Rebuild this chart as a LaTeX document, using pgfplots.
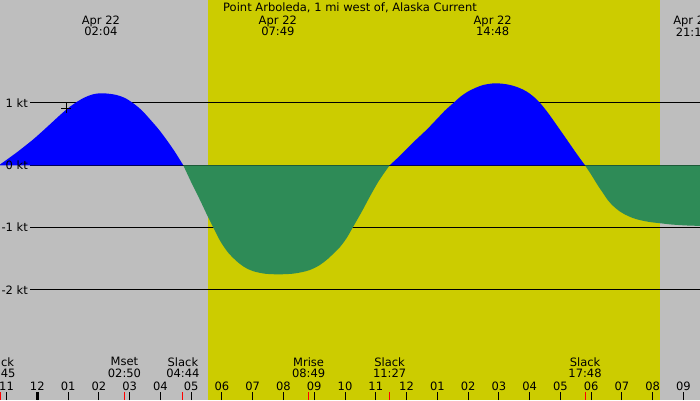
\documentclass[border=0pt]{standalone}
\usepackage{pgfplots}
\pgfplotsset{compat=1.18}
\usepackage{fontspec}
\setmainfont{DejaVu Sans}
\definecolor{bggray}{RGB}{190,190,190}
\definecolor{dayyellow}{RGB}{204,204,0}
\definecolor{ebbgreen}{RGB}{46,139,87}
\definecolor{floodblue}{RGB}{0,0,255}

\begin{document}
\begin{tikzpicture}[every node/.style={font=\fontsize{11.5}{11.6}\selectfont, inner sep=0pt}]
\useasboundingbox (0,0) rectangle (700pt,400pt);
\begin{axis}[
  at={(0,0)}, anchor=south west,
  width=700pt, height=400pt, scale only axis,
  xmin=-1.2122, xmax=21.537,
  ymin=-3.767, ymax=2.653,
  axis line style={draw=none},
  axis background/.style={fill=bggray},
  axis on top,
  ytick=\empty,
  xtick={-1,0,...,21},
  xticklabels={11,12,01,02,03,04,05,06,07,08,09,10,11,12,01,02,03,04,05,06,07,08,09},
  xtick pos=bottom,
  tick align=inside,
  major tick length=8pt,
  tick style={black, line width=1pt},
  xticklabel style={anchor=base, yshift=10pt, font=\fontsize{11.5}{11.6}\selectfont},
]
% daylight
\addplot[fill=dayyellow, draw=none] coordinates {(5.548,-3.767) (5.548,2.653) (20.237,2.653) (20.237,-3.767)};

% knot lines
\addplot[black, line width=1pt] coordinates {(-0.237,1) (21.537,1)};
\addplot[black, line width=1pt] coordinates {(-0.237,0) (21.537,0)};
\addplot[black, line width=1pt] coordinates {(-0.237,-1) (21.537,-1)};
\addplot[black, line width=1pt] coordinates {(-0.237,-2) (21.537,-2)};

% flood 1
\addplot[fill=floodblue, draw=none, smooth, tension=0.5] coordinates {
(-1.25,0) (-0.95,0.105) (-0.66,0.21) (-0.4,0.31) (-0.13,0.417) (0.14,0.535)
(0.413,0.658) (0.68,0.78) (0.955,0.899) (1.2,0.99) (1.5,1.08) (1.8,1.138)
(2.05,1.156) (2.3,1.150) (2.58,1.128) (2.85,1.08) (3.12,0.995) (3.4,0.88)
(3.663,0.738) (3.94,0.58) (4.205,0.406) (4.48,0.21) (4.745,0)};

% ebb 1
\addplot[fill=ebbgreen, draw=none, smooth, tension=0.5] coordinates {
(4.745,0) (5.0,-0.27) (5.29,-0.56) (5.5,-0.78) (5.72,-1.0) (5.95,-1.22) (6.2,-1.40)
(6.48,-1.54) (6.75,-1.64) (7.02,-1.70) (7.4,-1.74) (7.85,-1.75) (8.3,-1.74)
(8.6,-1.715) (8.86,-1.68) (9.15,-1.61) (9.4,-1.52) (9.62,-1.42) (9.84,-1.31)
(10.05,-1.17) (10.25,-1.0) (10.55,-0.74) (10.81,-0.50) (11.1,-0.25) (11.45,0)};

% flood 2
\addplot[fill=floodblue, draw=none, smooth, tension=0.5] coordinates {
(11.45,0) (11.8,0.16) (12.2,0.36) (12.65,0.57) (13.0,0.75) (13.25,0.88) (13.5,0.99)
(13.75,1.10) (14.0,1.185) (14.25,1.245) (14.5,1.29) (14.84,1.316) (15.1,1.31)
(15.36,1.29) (15.65,1.245) (15.9,1.185) (16.12,1.105) (16.34,1.0) (16.6,0.84)
(16.88,0.645) (17.1,0.49) (17.31,0.34) (17.55,0.17) (17.8,0)};

% ebb 2
\addplot[fill=ebbgreen, draw=none, smooth, tension=0.5] coordinates {
(17.8,0) (18.0,-0.15) (18.2,-0.31) (18.39,-0.45) (18.55,-0.565) (18.72,-0.655)
(18.9,-0.73) (19.1,-0.79) (19.35,-0.845) (19.59,-0.88) (19.9,-0.91) (20.24,-0.93)
(20.6,-0.95) (20.89,-0.96) (21.2,-0.968) (21.537,-0.972) (21.9,-0.975) (21.9,0)};

% current time mark
\addplot[only marks, mark=+, mark size=5pt, mark options={black, line width=1pt}] coordinates {(0.936,0.918)};

% midnight tick and event ticks
\addplot[black, line width=3pt] coordinates {(0,-3.639) (0,-3.767)};
\addplot[red, line width=1pt] coordinates {(-1.2,-3.639) (-1.2,-3.767)};
\addplot[red, line width=1pt] coordinates {(2.833,-3.639) (2.833,-3.767)};
\addplot[red, line width=1pt] coordinates {(4.733,-3.639) (4.733,-3.767)};
\addplot[red, line width=1pt] coordinates {(8.817,-3.639) (8.817,-3.767)};
\addplot[red, line width=1pt] coordinates {(11.45,-3.639) (11.45,-3.767)};
\addplot[red, line width=1pt] coordinates {(17.8,-3.639) (17.8,-3.767)};

% title and labels
\node at (rel axis cs:0.5,0.98175) {Point Arboleda, 1 mi west of, Alaska Current};

\node[align=center] at (axis cs:2.067,2.236) {Apr 22\\02:04};
\node[align=center] at (axis cs:7.817,2.236) {Apr 22\\07:49};
\node[align=center] at (axis cs:14.8,2.236) {Apr 22\\14:48};
\node[align=center] at (axis cs:21.29,2.236) {Apr 22\\21:17};

\node[anchor=east] at (axis cs:-0.302,1) {1 kt};
\node[anchor=east] at (axis cs:-0.302,0) {0 kt};
\node[anchor=east] at (axis cs:-0.302,-1) {-1 kt};
\node[anchor=east] at (axis cs:-0.302,-2) {-2 kt};

\node[align=center] at (axis cs:-1.25,-3.246) {Slack\\22:45};
\node[align=center] at (axis cs:2.833,-3.246) {Mset\\02:50};
\node[align=center] at (axis cs:4.733,-3.246) {Slack\\04:44};
\node[align=center] at (axis cs:8.817,-3.246) {Mrise\\08:49};
\node[align=center] at (axis cs:11.45,-3.246) {Slack\\11:27};
\node[align=center] at (axis cs:17.8,-3.246) {Slack\\17:48};
\end{axis}
\end{tikzpicture}
\end{document}
